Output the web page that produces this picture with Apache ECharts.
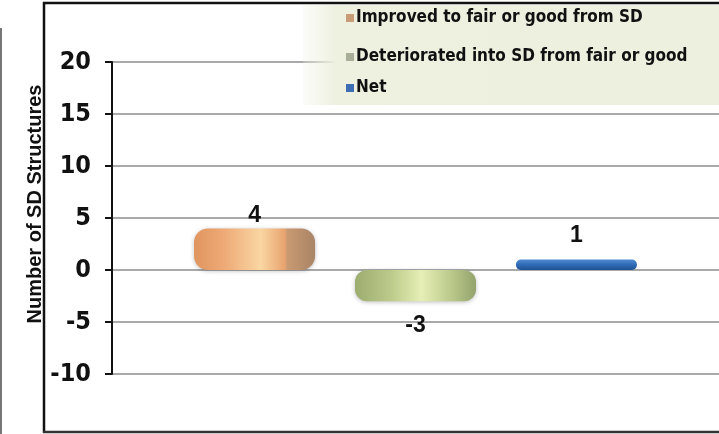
<!DOCTYPE html>
<html>
<head>
<meta charset="utf-8">
<script src="https://cdn.jsdelivr.net/npm/echarts@6/dist/echarts.min.js"></script>
<style>html,body{margin:0;padding:0;background:#fff}#c{width:719px;height:434px}</style>
</head>
<body>
<div id="c"></div>
<script>
const categories = [''];
const seriesNames = ['Improved to fair or good from SD', 'Deteriorated into SD from fair or good', 'Net'];
const improvedValues = [4];
const deterioratedValues = [-3];
const netValues = [1];
const yTicks = { min: -10, max: 20, interval: 5 };
const yAxisTitle = 'Number of SD Structures';

const NARROW = "'Liberation Sans Narrow', 'DejaVu Sans Condensed', 'Liberation Sans', sans-serif";
const REG = "'Liberation Sans', Arial, sans-serif";

const chart = echarts.init(document.getElementById('c'));
function lg(name, top, color) {
  return {
    data: [{ name: name, itemStyle: { color: color } }],
    left: 346, top: top, orient: 'vertical', padding: 0, z: 6,
    icon: 'rect', itemWidth: 8, itemHeight: 8, selectedMode: false,
    textStyle: { fontFamily: NARROW, fontWeight: 'bold', fontSize: 17, color: '#111', lineHeight: 20, padding: [0, 0, 0, -3] }
  };
}
chart.setOption({
  animation: false,
  backgroundColor: '#ffffff',
  grid: { left: 112, right: -4, top: 62, bottom: 60 },
  legend: [
    lg(seriesNames[0], 8, '#c99c78'),
    lg(seriesNames[1], 47, '#a8ae98'),
    lg(seriesNames[2], 78, '#3d6db2')
  ],
  xAxis: {
    type: 'category', data: categories,
    axisLine: { show: false }, axisTick: { show: false }, axisLabel: { show: false }
  },
  yAxis: {
    type: 'value', min: yTicks.min, max: yTicks.max, interval: yTicks.interval,
    axisLine: { show: true, lineStyle: { color: '#111', width: 2 } },
    axisTick: { show: true, length: 7, lineStyle: { color: '#111', width: 2 } },
    axisLabel: { margin: 21, fontFamily: NARROW, fontWeight: 'bold', fontSize: 25, color: '#111' },
    splitLine: { show: true, lineStyle: { color: '#8c8c8c', width: 1.5 } }
  },
  series: [
    {
      name: seriesNames[0], type: 'bar', data: improvedValues, barWidth: 121, barGap: '33%',
      itemStyle: {
        borderRadius: 14,
        color: new echarts.graphic.LinearGradient(0, 0, 1, 0, [
          { offset: 0, color: '#e0955f' }, { offset: 0.25, color: '#eeaa77' },
          { offset: 0.55, color: '#f9d6a2' }, { offset: 0.75, color: '#e9a46f' },
          { offset: 0.77, color: '#c99a72' }, { offset: 1, color: '#a98466' }
        ]),
        shadowColor: 'rgba(0,0,0,0.25)', shadowBlur: 4, shadowOffsetY: 1
      },
      label: { show: true, position: 'top', distance: 1, fontFamily: REG, fontWeight: 'bold', fontSize: 23, color: '#111' }
    },
    {
      name: seriesNames[1], type: 'bar', data: deterioratedValues, barWidth: 121, barGap: '33%',
      itemStyle: {
        borderRadius: 12,
        color: new echarts.graphic.LinearGradient(0, 0, 1, 0, [
          { offset: 0, color: '#9dad70' }, { offset: 0.3, color: '#bccb8a' },
          { offset: 0.55, color: '#e6efb6' }, { offset: 0.8, color: '#bac88a' },
          { offset: 1, color: '#93a36c' }
        ]),
        shadowColor: 'rgba(0,0,0,0.25)', shadowBlur: 4, shadowOffsetY: 1
      },
      label: { show: true, position: 'bottom', distance: 13, fontFamily: REG, fontWeight: 'bold', fontSize: 23, color: '#111' }
    },
    {
      name: seriesNames[2], type: 'bar', data: netValues, barWidth: 121, barGap: '33%',
      itemStyle: {
        borderRadius: 5,
        color: new echarts.graphic.LinearGradient(0, 0, 0, 1, [
          { offset: 0, color: '#4f8ad0' }, { offset: 0.5, color: '#2f6cb5' }, { offset: 1, color: '#1f5090' }
        ])
      },
      label: { show: true, position: 'top', distance: 12, fontFamily: REG, fontWeight: 'bold', fontSize: 23, color: '#111' }
    }
  ],
  graphic: [
    { type: 'rect', z: 5, shape: { x: 303, y: 5, width: 420, height: 100 },
      style: { fill: new echarts.graphic.LinearGradient(0, 0, 1, 0, [
        { offset: 0, color: 'rgba(238,240,224,0.2)' }, { offset: 0.08, color: '#eef0e0' }, { offset: 1, color: '#edf0de' }
      ]) } },
    { type: 'line', z: 10, shape: { x1: 44, y1: 2, x2: 44, y2: 433 }, style: { stroke: '#111', lineWidth: 2.5 } },
    { type: 'line', z: 10, shape: { x1: 43, y1: 3, x2: 719, y2: 3 }, style: { stroke: '#111', lineWidth: 2.5 } },
    { type: 'line', z: 10, shape: { x1: 43, y1: 432, x2: 719, y2: 432 }, style: { stroke: '#333', lineWidth: 2.5 } },
    { type: 'line', z: 10, shape: { x1: 1, y1: 28, x2: 1, y2: 434 }, style: { stroke: '#777', lineWidth: 2 } },
    { type: 'text', z: 10, x: 35, y: 204, rotation: Math.PI / 2,
      style: { text: yAxisTitle, fontFamily: REG, fontWeight: 'bold', fontSize: 20, fill: '#111', align: 'center', verticalAlign: 'middle' } }
  ]
});
</script>
</body>
</html>
